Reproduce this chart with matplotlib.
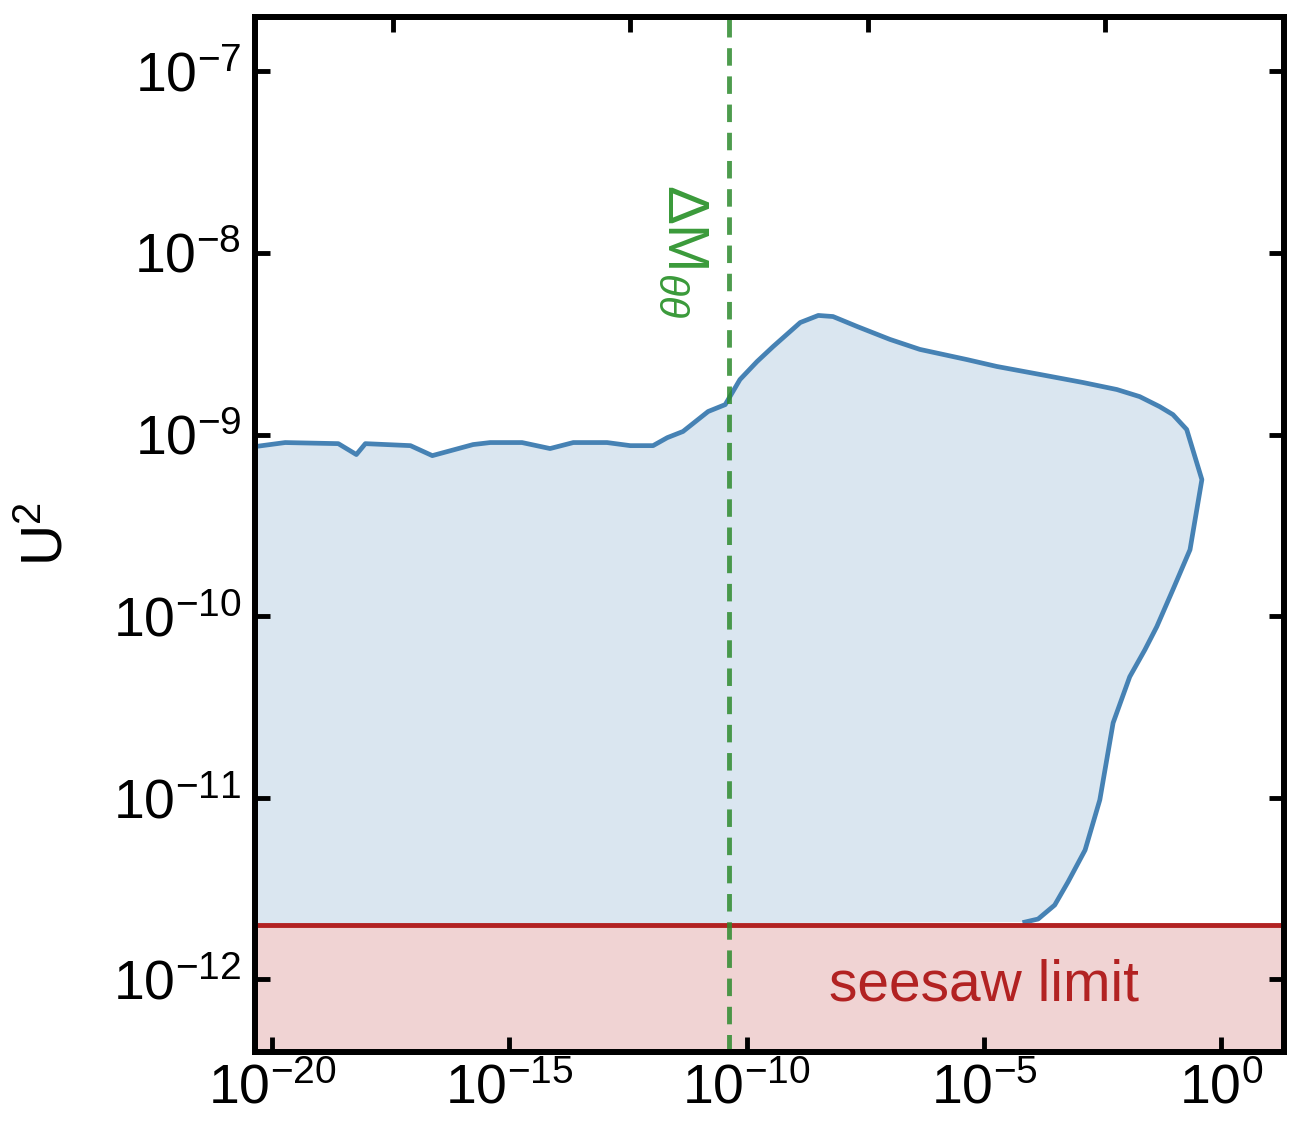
import numpy as np
import matplotlib
matplotlib.use('Agg')
import matplotlib.pyplot as plt
from matplotlib.ticker import LogFormatterMathtext, NullFormatter, NullLocator

plt.rcParams['font.family'] = ['Liberation Sans', 'DejaVu Sans']
plt.rcParams['mathtext.fontset'] = 'custom'
plt.rcParams['mathtext.rm'] = 'Liberation Sans'
plt.rcParams['mathtext.it'] = 'Liberation Sans:italic'
plt.rcParams['mathtext.bf'] = 'Liberation Sans:bold'

# boundary of the allowed region as log10 values
boundary_logx = [-20.35, -19.72, -18.60, -18.22, -18.03, -17.08, -16.62, -15.76, -15.40,
                 -14.73, -14.14, -13.65, -12.94, -12.45, -11.97, -11.67, -11.34, -10.81,
                 -10.45, -10.14, -9.78, -9.44, -8.87, -8.49, -8.18, -7.67, -6.98, -6.35,
                 -5.36, -4.73, -3.82, -2.92, -2.20, -1.72, -1.30, -1.02, -0.73, -0.41,
                 -0.66, -1.02, -1.36, -1.61, -1.93, -2.28, -2.56, -2.87, -3.23, -3.51,
                 -3.86, -4.14]
boundary_logy = [-9.066, -9.044, -9.050, -9.110, -9.050, -9.061, -9.116, -9.055, -9.044,
                 -9.044, -9.077, -9.044, -9.044, -9.061, -9.061, -9.017, -8.983, -8.873,
                 -8.835, -8.697, -8.598, -8.515, -8.383, -8.344, -8.350, -8.405, -8.476,
                 -8.531, -8.587, -8.625, -8.669, -8.713, -8.752, -8.791, -8.846, -8.890,
                 -8.972, -9.248, -9.634, -9.854, -10.058, -10.185, -10.334, -10.588,
                 -11.012, -11.288, -11.464, -11.591, -11.668, -11.685]

seesaw_u2 = 10 ** -11.70
delta_m_line = 10 ** -10.37

x_lim = (10 ** -20.35, 10 ** 1.33)
y_lim = (10 ** -12.40, 10 ** -6.70)
x_ticks = [1e-20, 1e-15, 1e-10, 1e-5, 1e0]
y_ticks = [1e-12, 1e-11, 1e-10, 1e-9, 1e-8, 1e-7]
top_ticks = [1e-15, 1e-10, 1e-5, 1e0]
top_shift = 2.45  # top axis ticks sit 2.45 decades off the bottom ones

bx = np.power(10.0, boundary_logx)
by = np.power(10.0, boundary_logy)

fig = plt.figure(figsize=(12.89, 11.21), dpi=100)
ax = fig.add_axes([0.198, 0.0616, 0.7985, 0.9233])
ax.set_xscale('log')
ax.set_yscale('log')
ax.set_xlim(*x_lim)
ax.set_ylim(*y_lim)

# blue region down to the seesaw line
poly_x = np.concatenate([bx, [x_lim[0], x_lim[0]]])
poly_y = np.concatenate([by, [seesaw_u2, seesaw_u2]])
ax.fill(poly_x, poly_y, color='#dae6f0', lw=0, zorder=1)
ax.plot(bx, by, color='#4682b4', lw=3.4, zorder=3)

# seesaw region
ax.axhspan(y_lim[0], seesaw_u2, color='#f0d3d3', lw=0, zorder=1)
ax.axhline(seesaw_u2, color='#b22222', lw=3.5, zorder=4)
ax.text(1e-5, 10 ** -12.115, 'seesaw limit', color='#b22222', fontsize=41,
        ha='center', va='baseline', zorder=5)

# Delta M line
ax.axvline(delta_m_line, color='#2e8b2e', lw=3.5, ls=(0, (3.6, 2.2)), alpha=0.85, zorder=5)
ax.text(10 ** -11.34, 10 ** -7.99, r'$\Delta \mathrm{M}_{\theta\theta}$', color='#3a9a3a',
        fontsize=42, rotation=-90, ha='center', va='center', zorder=5)

ax.set_xticks(x_ticks)
ax.set_yticks(y_ticks)
ax.xaxis.set_major_formatter(LogFormatterMathtext())
ax.yaxis.set_major_formatter(LogFormatterMathtext())
ax.xaxis.set_minor_locator(NullLocator())
ax.yaxis.set_minor_locator(NullLocator())
ax.tick_params(axis='both', which='major', direction='in', length=10.5, width=3.5,
               labelsize=40)
ax.tick_params(axis='y', right=True, pad=10)
ax.tick_params(axis='x', pad=8)
for sp in ax.spines.values():
    sp.set_linewidth(4.2)

ax.set_ylabel(r'U$^2$', fontsize=41, va='center')
ax.yaxis.set_label_coords(-0.202, 0.5)

# top axis with its own tick positions, no labels
top = ax.twiny()
top.set_xscale('log')
top.set_xlim(x_lim[0] * 10 ** top_shift, x_lim[1] * 10 ** top_shift)
top.set_xticks(top_ticks)
top.xaxis.set_minor_locator(NullLocator())
top.xaxis.set_major_formatter(NullFormatter())
top.tick_params(axis='x', direction='in', length=10.5, width=3.5)
for sp in top.spines.values():
    sp.set_linewidth(4.2)

fig.savefig('out.png', dpi=100)
